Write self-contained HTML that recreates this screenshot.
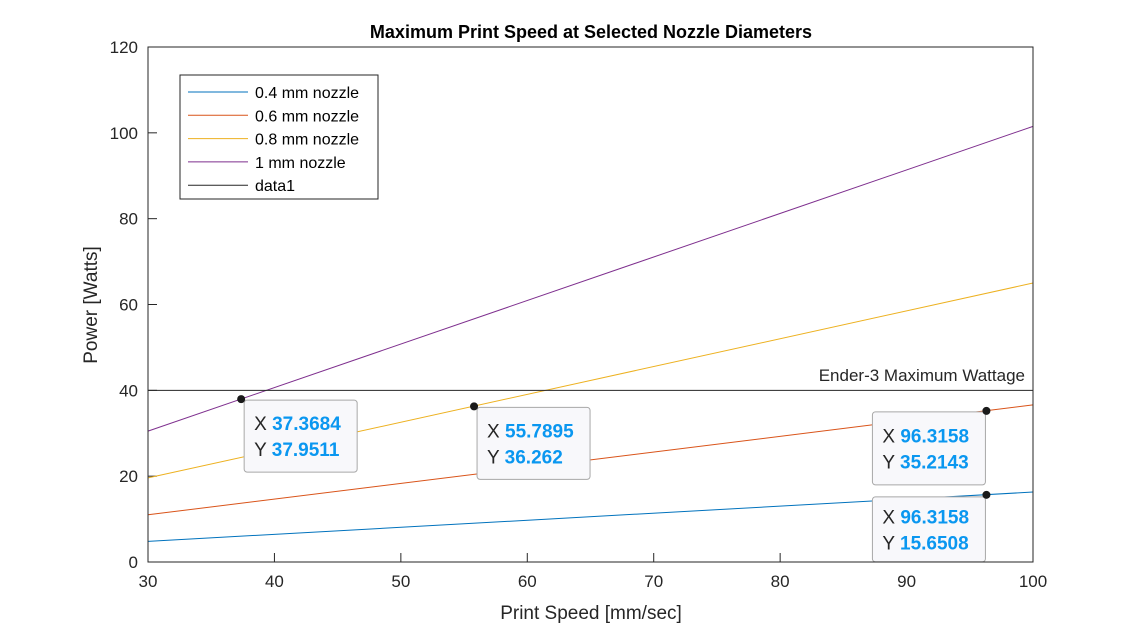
<!DOCTYPE html>
<html><head><meta charset="utf-8"><style>
body{margin:0;background:#fff;width:1143px;height:630px;overflow:hidden}
svg{font-family:"Liberation Sans",Arial,sans-serif}
</style></head><body>
<svg id="chart" width="1143" height="630" viewBox="0 0 1143 630">
<rect x="0" y="0" width="1143" height="630" fill="#fff"/>
<g id="grid"></g>
<g id="series"></g>
<g id="tips"></g>
<rect x="148" y="47" width="885" height="515" fill="none" stroke="#262626" stroke-width="1"/>
<text x="591" y="38" text-anchor="middle" font-size="18" font-weight="bold" fill="#000">Maximum Print Speed at Selected Nozzle Diameters</text>
<text x="591" y="619" text-anchor="middle" font-size="19" fill="#262626">Print Speed [mm/sec]</text>
<text transform="translate(97,305) rotate(-90)" text-anchor="middle" font-size="19" fill="#262626">Power [Watts]</text>
<text x="1025" y="381" text-anchor="end" font-size="17" fill="#262626">Ender-3 Maximum Wattage</text>
<g id="legend"></g>
</svg>
<script>
const xs = [30, 100];
const names = ["0.4 mm nozzle","0.6 mm nozzle","0.8 mm nozzle","1 mm nozzle","data1"];
const s04 = [4.8, 16.3];
const s06 = [11.0, 36.6];
const s08 = [19.6, 65.0];
const s10 = [30.5, 101.5];
const limit = [40, 40];
const xTicks = [30,40,50,60,70,80,90,100];
const yTicks = [0,20,40,60,80,100,120];
const tipX = [37.3684, 55.7895, 96.3158, 96.3158];
const tipY = [37.9511, 36.262, 35.2143, 15.6508];
const tipXLabel = ["37.3684","55.7895","96.3158","96.3158"];
const tipYLabel = ["37.9511","36.262","35.2143","15.6508"];
const colors = ["#0072BD","#D95319","#EDB120","#7E2F8E","#262626"];
const NS="http://www.w3.org/2000/svg";
const X=v=>148+(v-30)/70*885, Y=v=>562-v/120*515;
function mk(t,a,p){const e=document.createElementNS(NS,t);for(const k in a)e.setAttribute(k,a[k]);p.appendChild(e);return e;}
const grid=document.getElementById('grid');
xTicks.forEach(t=>{
 const l=mk('line',{x1:X(t),x2:X(t),y1:562,y2:553,stroke:'#262626'},grid);
 
 
 const tx=mk('text',{x:X(t),y:587,'text-anchor':'middle','font-size':17,fill:'#262626'},grid);tx.textContent=t;
 
 
});
yTicks.forEach(t=>{
 const l=mk('line',{x1:148,x2:157,y1:Y(t),y2:Y(t),stroke:'#262626'},grid);
 
 
 const tx=mk('text',{x:138,y:Y(t)+6,'text-anchor':'end','font-size':17,fill:'#262626'},grid);tx.textContent=t;
 
 
});
const sg=document.getElementById('series');
[s04,s06,s08,s10,limit].forEach((s,i)=>{
 const p=mk('polyline',{points:xs.map((x,j)=>X(x)+','+Y(s[j])).join(' '),fill:'none',stroke:colors[i],'stroke-width':1},sg);
 
 
});
const tg=document.getElementById('tips');
const boxOff=[[3,1],[3,1],[-114,1],[-114,2]];
const boxH=[72,72,73,65];
tipX.forEach((x,i)=>{
 const px=X(x),py=Y(tipY[i]);
 const bx=px+boxOff[i][0],by=py+boxOff[i][1];
 const r=mk('rect',{x:bx,y:by,width:113,height:boxH[i],rx:3,fill:'#f8f8fb',stroke:'#a8a8a8'},tg);
 
 
 const c=mk('circle',{cx:px,cy:py,r:4,fill:'#1a1a1a'},tg);
 
 
 const mid=by+boxH[i]/2;
 const t1=mk('text',{x:bx+10,y:mid-6,'font-size':19,fill:'#262626'},tg);
 
 
 t1.innerHTML='X <tspan fill="#0a97f0" font-weight="bold">'+tipXLabel[i]+'</tspan>';
 const t2=mk('text',{x:bx+10,y:mid+20,'font-size':19,fill:'#262626'},tg);
 
 
 t2.innerHTML='Y <tspan fill="#0a97f0" font-weight="bold">'+tipYLabel[i]+'</tspan>';
});
const lg=document.getElementById('legend');
mk('rect',{x:180,y:75,width:198,height:124,fill:'#fff',stroke:'#262626'},lg);
names.forEach((n,i)=>{
 const y=92+i*23.3;
 const l=mk('line',{x1:188,x2:248,y1:y,y2:y,stroke:colors[i]},lg);
 
 
 const t=mk('text',{x:255,y:y+6,'font-size':16,fill:'#000'},lg);t.textContent=n;
 
 
});
</script>
</body></html>
